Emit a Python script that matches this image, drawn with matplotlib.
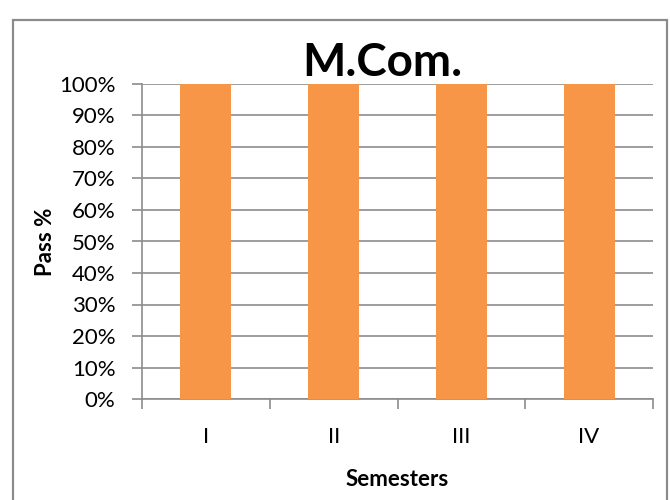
import matplotlib.pyplot as plt
import numpy as np
from matplotlib.patches import Rectangle

semesters = ['I', 'II', 'III', 'IV']
pass_pct = [100, 100, 100, 100]
yticks = list(range(0, 101, 10))

plt.rcParams['font.family'] = ['Lato', 'DejaVu Sans']

fig = plt.figure(figsize=(6.7, 5), dpi=100)
ax = fig.add_axes([142/670, 101/500, 511/670, 315/500])

# chart border (bottom runs off the picture, like the source)
fig.patches.append(Rectangle((13/670, -0.05), 654/670, 1.03 - 10/500, transform=fig.transFigure,
                             fill=False, edgecolor='#8c8c8c', linewidth=1.6, clip_on=False))

x = np.arange(len(semesters))
ax.bar(x, pass_pct, width=0.4, color='#F79646', zorder=3)

ax.set_xlim(-0.5, len(semesters) - 0.5)
ax.set_ylim(0, 100)
ax.set_yticks(yticks)
ax.set_yticklabels([f'{v}%' for v in yticks], fontsize=16)
ax.yaxis.grid(True, color='#8c8c8c', linewidth=1.2, zorder=0)

# category labels centred, ticks on the boundaries
ax.set_xticks(np.arange(-0.5, len(semesters)), minor=False)
ax.set_xticklabels([])
ax.set_xticks(x, minor=True)
ax.set_xticklabels(semesters, minor=True, fontsize=16)
ax.tick_params(axis='x', which='minor', length=0, pad=20)
ax.tick_params(axis='x', which='major', length=7, color='#8c8c8c', width=1.2)
ax.tick_params(axis='y', length=7, color='#8c8c8c', width=1.2, pad=12)

for s in ['top', 'right']:
    ax.spines[s].set_visible(False)
for s in ['left', 'bottom']:
    ax.spines[s].set_color('#8c8c8c')
    ax.spines[s].set_linewidth(1.2)

ax.set_xlabel('Semesters', fontsize=16, fontweight='bold', labelpad=16)
ax.set_ylabel('Pass %', fontsize=16, fontweight='bold', labelpad=2)
fig.text(382/670, 1 - 63/500, 'M.Com.', fontsize=33, fontweight='bold', ha='center', va='center')

fig.savefig('out.png', dpi=100)
